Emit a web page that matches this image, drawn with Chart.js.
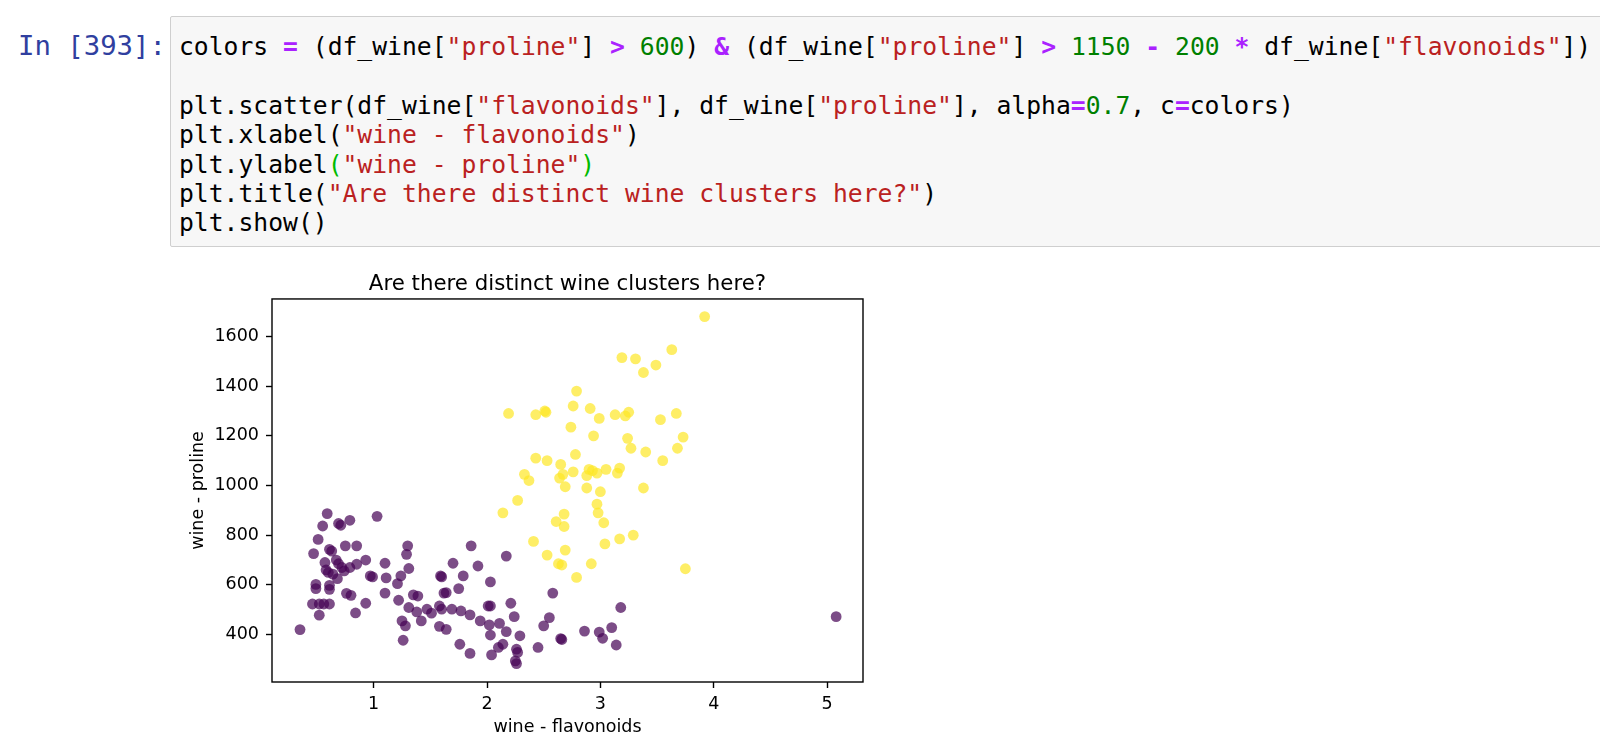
<!DOCTYPE html>
<html>
<head>
<meta charset="utf-8">
<script src="https://cdn.jsdelivr.net/npm/chart.js@4"></script>
<style>
  body { margin: 0; background: #fff; width: 1600px; height: 751px; overflow: hidden; position: relative; }
  .mono { font-family: "DejaVu Sans Mono", monospace; font-size: 24.7px; line-height: 29.4px; white-space: pre; }
  #prompt { position: absolute; left: 18px; top: 31px; color: #303F9F; font-size: 27.3px; }
  #cell { position: absolute; left: 170px; top: 16px; width: 1460px; height: 229px;
          background: #f7f7f7; border: 1px solid #cfcfcf; border-radius: 2px; }
  #code { position: absolute; left: 8px; top: 15px; margin: 0; color: #000; }
  .s { color: #BA2121; }
  .n { color: #008000; }
  .o { color: #AA22FF; font-weight: bold; }
  .m { color: #00bb00; }
  #chart { position: absolute; left: 170px; top: 260px; }
</style>
</head>
<body>
<div id="prompt" class="mono">In [393]:</div>
<div id="cell">
<pre id="code" class="mono">colors <span class="o">=</span> (df_wine[<span class="s">"proline"</span>] <span class="o">&gt;</span> <span class="n">600</span>) <span class="o">&amp;</span> (df_wine[<span class="s">"proline"</span>] <span class="o">&gt;</span> <span class="n">1150</span> <span class="o">-</span> <span class="n">200</span> <span class="o">*</span> df_wine[<span class="s">"flavonoids"</span>])

plt.scatter(df_wine[<span class="s">"flavonoids"</span>], df_wine[<span class="s">"proline"</span>], alpha<span class="o">=</span><span class="n">0.7</span>, c<span class="o">=</span>colors)
plt.xlabel(<span class="s">"wine - flavonoids"</span>)
plt.ylabel<span class="m">(</span><span class="s">"wine - proline"</span><span class="m">)</span>
plt.title(<span class="s">"Are there distinct wine clusters here?"</span>)
plt.show()</pre>
</div>
<canvas id="chart" width="710" height="491"></canvas>
<script>
// points where colors == False (dark purple)
const lowFlav = [0.35, 0.59, 0.55, 0.69, 0.71, 0.79, 1.03, 0.51, 0.47, 0.61, 0.63, 0.75, 0.85, 0.93, 1.10, 1.30, 1.29, 1.31, 1.70, 1.86, 1.92,
  0.57, 0.58, 0.60, 0.67, 0.69, 0.72, 0.74, 0.64, 0.68, 0.79, 0.85, 0.97, 0.99, 1.11, 1.21, 1.24, 0.49, 0.49, 0.61, 0.61,
  0.46, 0.52, 0.56, 0.61, 0.52, 0.76, 0.80, 0.93, 0.84, 1.10, 1.22, 1.35, 1.39, 1.31, 1.25, 1.28, 1.26, 1.38, 1.42, 1.47,
  1.51, 1.58, 1.60, 1.59, 1.60, 1.64, 1.62, 1.69, 1.77, 1.85, 1.75, 1.79, 1.58, 1.64, 1.76, 1.85, 1.94, 2.03, 2.01, 2.03,
  2.02, 2.03, 2.04, 2.11, 2.17, 2.21, 2.24, 2.17, 2.10, 2.14, 2.29, 2.26, 2.27, 2.25, 2.26, 2.45, 2.50, 2.55, 2.58, 2.65,
  2.66, 2.86, 2.99, 3.02, 3.10, 3.14, 3.18, 5.08];
const lowProline = [420, 887, 837, 847, 840, 860, 876, 783, 726, 743, 736, 757, 757, 700, 687, 757, 723, 666, 687, 757, 676,
  690, 660, 650, 700, 685, 670, 656, 643, 625, 670, 683, 636, 632, 628, 605, 636, 602, 585, 598, 582,
  523, 523, 523, 523, 478, 566, 558, 526, 487, 567, 538, 560, 555, 509, 455, 435, 377, 491, 455, 502,
  486, 515, 502, 636, 632, 569, 567, 502, 495, 479, 585, 636, 433, 421, 361, 324, 455, 612, 515, 515,
  439, 398, 318, 445, 412, 526, 472, 716, 348, 361, 395, 341, 328, 294, 283, 348, 435, 468, 567, 384,
  380, 414, 410, 385, 428, 358, 509, 472];

// points where colors == True (yellow)
const highFlav = [3.92, 3.63, 3.19, 3.31, 3.49, 3.38, 2.79, 2.19, 2.43, 2.52, 2.51, 2.76, 2.91, 2.99, 3.13, 3.22, 3.25, 3.53,
  3.67, 2.74, 2.94, 3.24, 3.27, 3.73, 3.68, 3.40, 3.55, 2.78, 2.43, 2.53, 2.65, 2.76, 2.90, 2.93, 2.97, 3.05, 3.17,
  3.15, 2.88, 2.64, 2.67, 2.33, 2.37, 2.69, 2.88, 3.00, 3.38, 2.27, 2.97, 2.14, 2.98, 3.03, 2.61, 2.68, 2.68, 2.41,
  3.04, 3.17, 3.29, 2.53, 2.69, 2.63, 2.66, 2.92, 2.79, 3.75];
const highProline = [1680, 1547, 1515, 1510, 1485, 1455, 1380, 1290, 1285, 1295, 1300, 1320, 1310, 1270, 1285, 1280, 1295, 1265,
  1290, 1235, 1200, 1190, 1150, 1195, 1150, 1135, 1100, 1125, 1110, 1100, 1085, 1055, 1065, 1060, 1050, 1065, 1070,
  1050, 1040, 1030, 1045, 1045, 1020, 995, 990, 975, 990, 940, 925, 890, 890, 850, 855, 885, 835, 775,
  765, 785, 800, 720, 740, 685, 680, 685, 630, 665];

const xTicks = [1, 2, 3, 4, 5];
const yTicks = [400, 600, 800, 1000, 1200, 1400, 1600];

const toPoints = (xs, ys) => xs.map((x, i) => ({ x: x, y: ys[i] }));

// top and right spines, like matplotlib's box
const frame = {
  id: 'frame',
  afterDatasetsDraw(chart) {
    const a = chart.chartArea;
    const ctx = chart.ctx;
    ctx.save();
    ctx.strokeStyle = '#000';
    ctx.lineWidth = 1.4;
    ctx.strokeRect(a.left, a.top, a.right - a.left, a.bottom - a.top);
    ctx.restore();
  }
};

const tickFont = { family: 'DejaVu Sans', size: 17.5 };

new Chart(document.getElementById('chart'), {
  type: 'scatter',
  data: {
    datasets: [
      { data: toPoints(lowFlav, lowProline), backgroundColor: 'rgba(68, 1, 84, 0.7)', pointRadius: 5.4, borderWidth: 0, pointHoverRadius: 5.4 },
      { data: toPoints(highFlav, highProline), backgroundColor: 'rgba(253, 231, 37, 0.7)', pointRadius: 5.4, borderWidth: 0, pointHoverRadius: 5.4 }
    ]
  },
  options: {
    responsive: false,
    animation: false,
    layout: { padding: { left: 0, right: 17, top: 0, bottom: 0 } },
    plugins: {
      legend: { display: false },
      tooltip: { enabled: false },
      title: {
        display: true,
        fullSize: false, // centre over the plot area, not the canvas
        text: 'Are there distinct wine clusters here?',
        color: '#000',
        font: { family: 'DejaVu Sans', size: 21.3, weight: 'normal' },
        padding: { top: 12, bottom: 1.4 }
      }
    },
    scales: {
      x: {
        min: 0.103,
        max: 5.317,
        afterBuildTicks: axis => { axis.ticks = xTicks.map(v => ({ value: v })); },
        afterFit: axis => { axis.height = 69; },
        border: { display: false },
        grid: { drawOnChartArea: false, tickLength: 6, tickWidth: 1.4, tickColor: '#000' },
        ticks: { color: '#000', font: tickFont, padding: 6, maxRotation: 0, callback: v => String(v) },
        title: { display: true, text: 'wine - flavonoids', color: '#000', font: tickFont, padding: { top: 0, bottom: 13 } }
      },
      y: {
        min: 209,
        max: 1751,
        afterBuildTicks: axis => { axis.ticks = yTicks.map(v => ({ value: v })); },
        afterFit: axis => { axis.width = 102; },
        border: { display: false },
        grid: { drawOnChartArea: false, tickLength: 6, tickWidth: 1.4, tickColor: '#000' },
        ticks: { color: '#000', font: tickFont, padding: 7, callback: v => String(v) },
        title: { display: true, text: 'wine - proline', color: '#000', font: tickFont, padding: { top: 18, bottom: 0 } }
      }
    }
  },
  plugins: [frame]
});
</script>
</body>
</html>
